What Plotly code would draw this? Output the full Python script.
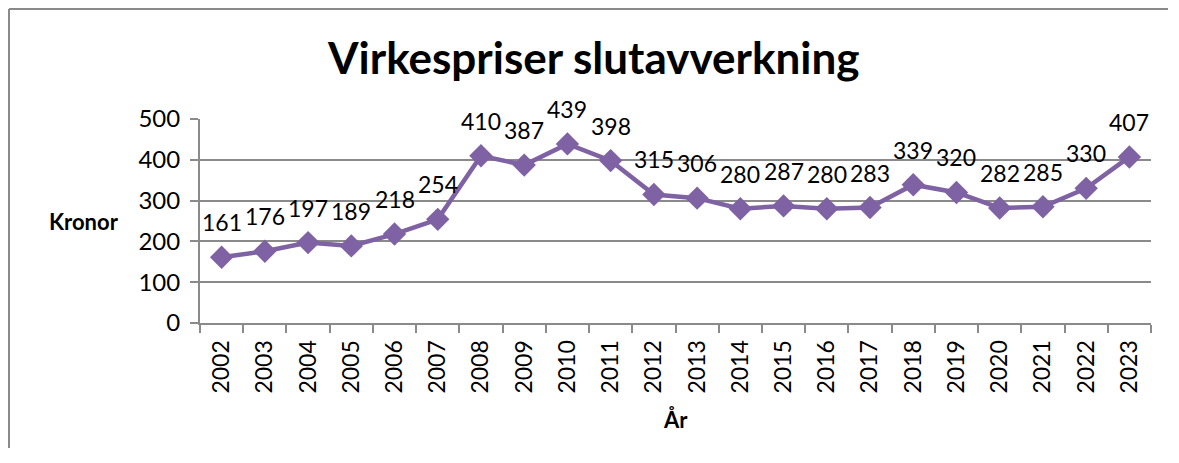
import plotly.graph_objects as go

years = [str(y) for y in range(2002, 2024)]
prices = [161, 176, 197, 189, 218, 254, 410, 387, 439, 398, 315, 306, 280, 287, 280, 283, 339, 320, 282, 285, 330, 407]
y_ticks = [0, 100, 200, 300, 400, 500]

title_text = "Virkespriser slutavverkning"
x_title = "År"
y_title = "Kronor"

FONT = "Lato"
purple = "#7F62A3"
grey = "#8A8A8A"

# figure sits in page with an 8px body margin
L, T, PW, PH = 192, 111, 951, 204
W, H = 1160, 440

def px(xf):
    return (xf - L) / PW

def py(yf):
    return (T + PH - yf) / PH

fig = go.Figure()
fig.add_trace(go.Scatter(
    x=years, y=prices, mode="lines+markers",
    line=dict(color=purple, width=4.5),
    marker=dict(symbol="diamond", size=18, color=purple),
    hoverinfo="skip", showlegend=False,
))

for i, v in enumerate(prices):
    fig.add_annotation(x=i, y=v, xref="x", yref="y", text=str(v), showarrow=False,
                       yshift=35, font=dict(family=FONT, size=23, color="black"))

fig.add_annotation(x=px(585), y=py(49), xref="paper", yref="paper",
                   xanchor="center", yanchor="middle",
                   text="<b>" + title_text + "</b>", showarrow=False,
                   font=dict(family=FONT, size=44, color="black"))
fig.add_annotation(x=px(76), y=py(213), xref="paper", yref="paper",
                   xanchor="center", yanchor="middle",
                   text="<b>" + y_title + "</b>", showarrow=False,
                   font=dict(family=FONT, size=22, color="black"))
fig.add_annotation(x=px(667), y=py(411), xref="paper", yref="paper",
                   xanchor="center", yanchor="middle",
                   text="<b>" + x_title + "</b>", showarrow=False,
                   font=dict(family=FONT, size=22, color="black"))

# outer frame (top and left edges visible)
fig.add_shape(type="line", xref="paper", yref="paper",
              x0=px(1), x1=px(W), y0=py(1), y1=py(1),
              line=dict(color=grey, width=2))
fig.add_shape(type="line", xref="paper", yref="paper",
              x0=px(1), x1=px(1), y0=py(1), y1=py(H),
              line=dict(color=grey, width=2))

fig.update_layout(
    width=W, height=H,
    margin=dict(l=L, r=W - L - PW, t=T, b=H - T - PH, autoexpand=False),
    paper_bgcolor="white", plot_bgcolor="white",
    font=dict(family=FONT, size=23, color="black"),
    xaxis=dict(type="category", tickangle=-90, showgrid=False,
               showline=True, linecolor=grey, linewidth=2,
               ticks="outside", ticklen=8, tickcolor=grey, tickwidth=2,
               tickson="boundaries", tickfont=dict(family=FONT, size=23),
               ticklabelstandoff=6,
               range=[-0.5, len(years) - 0.5]),
    yaxis=dict(range=[0, 500], tickvals=y_ticks, showgrid=True,
               gridcolor=grey, gridwidth=2, showline=True, linecolor=grey,
               linewidth=2, ticks="outside", ticklen=8, tickcolor=grey,
               tickwidth=2, zeroline=False, ticklabelstandoff=5,
               tickfont=dict(family=FONT, size=24)),
)

fig.write_html("out.html", config={"displayModeBar": False})
